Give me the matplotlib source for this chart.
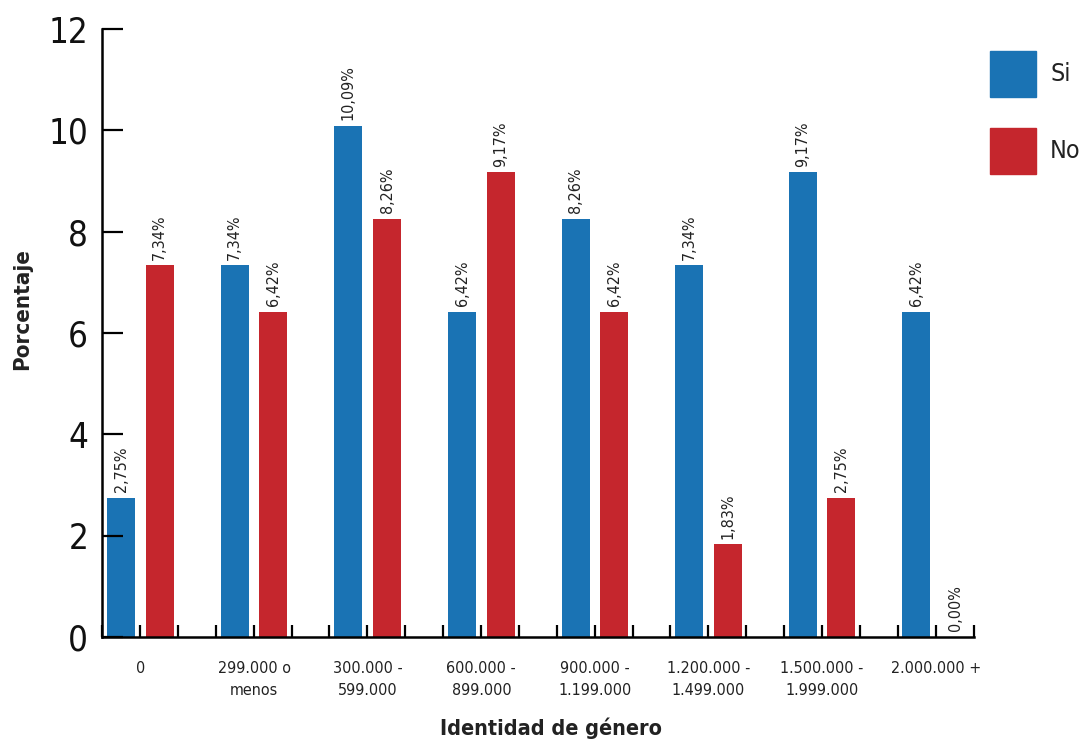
import numpy as np
import matplotlib
matplotlib.use("Agg")
import matplotlib.pyplot as plt
from matplotlib.patches import Rectangle

plt.rcParams['font.family'] = ['DejaVu Sans']
plt.rcParams['font.stretch'] = 'condensed'

categories = ['0', '299.000 o\nmenos', '300.000 -\n599.000', '600.000 -\n899.000',
              '900.000 -\n1.199.000', '1.200.000 -\n1.499.000', '1.500.000 -\n1.999.000',
              '2.000.000 +']
si_vals = [2.75, 7.34, 10.09, 6.42, 8.26, 7.34, 9.17, 6.42]
no_vals = [7.34, 6.42, 8.26, 9.17, 6.42, 1.83, 2.75, 0.00]
series_names = ['Si', 'No']
yticks = [0, 2, 4, 6, 8, 10, 12]

blue = '#1a73b4'
red = '#c5262d'

fig = plt.figure(figsize=(10.82, 7.46), dpi=100)
ax = fig.add_axes([0.0943, 0.1461, 0.8059, 0.815])

x = np.arange(len(categories))
w = 0.246
off = 0.17
b1 = ax.bar(x - off, si_vals, w, color=blue)
b2 = ax.bar(x + off, no_vals, w, color=red)

fmt = lambda v: f'{v:.2f}'.replace('.', ',') + '%'
for bars, vals in ((b1, si_vals), (b2, no_vals)):
    ax.bar_label(bars, labels=[fmt(v) for v in vals], rotation=90, padding=4,
                 fontsize=11.5, color='#222222')

ax.set_xlim(-0.339, 7.337)
ax.set_ylim(0, 12)
ax.set_yticks(yticks)
ax.set_xticks(x)
ax.set_xticklabels(categories, fontsize=11.5, color='#222222', linespacing=1.6)
ax.set_xticks(np.linspace(-0.339, 7.334, 24), minor=True)

ax.tick_params(axis='y', direction='in', length=15, width=1.6, labelsize=25,
               pad=10, labelcolor='#111111')
ax.tick_params(axis='x', which='major', length=0, pad=17)
ax.tick_params(axis='x', which='minor', direction='in', length=9, width=1.6)

for s in ('top', 'right'):
    ax.spines[s].set_visible(False)
for s in ('left', 'bottom'):
    ax.spines[s].set_linewidth(1.8)

ax.set_ylabel('Porcentaje', fontsize=16, fontweight='bold', color='#222222')
ax.yaxis.set_label_coords(-0.080, 0.54)
ax.set_xlabel('Identidad de género', fontsize=15.5, fontweight='bold', color='#222222')
ax.xaxis.set_label_coords(0.515, -0.132)

# legend drawn by hand in figure coords
leg_colors = [blue, red]
for i, (name, col) in enumerate(zip(series_names, leg_colors)):
    top = 51 + i * 77
    fig.add_artist(Rectangle((990 / 1082, 1 - (top + 46) / 746), 46 / 1082, 46 / 746,
                             transform=fig.transFigure, color=col))
    fig.text(1050 / 1082, 1 - (top + 23) / 746, name, fontsize=18,
             va='center', ha='left', color='#222222')

fig.savefig('out.png', dpi=100)
